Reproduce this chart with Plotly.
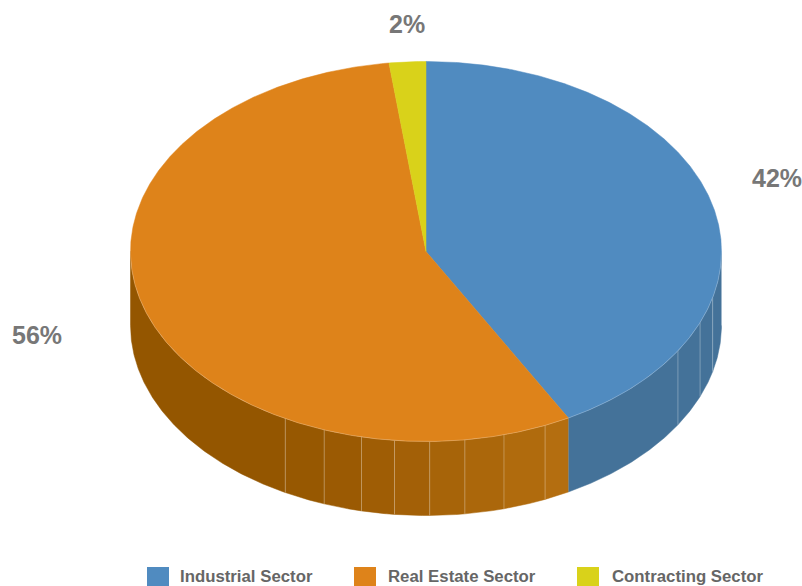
import numpy as np
import plotly.graph_objects as go

# Sector shares, clockwise from twelve o'clock
sectors = ["Industrial Sector", "Real Estate Sector", "Contracting Sector"]
shares = [42, 56, 2]
labels = ["42%", "56%", "2%"]

top_colors = ["#508bc0", "#de831a", "#d9d21a"]
label_color = "#777777"
legend_color = "#666666"

# Cumulative percentages where the rim of the drum is divided into facets
blue_seams = [28.9, 31.1, 33.75]
orange_seams = [43.4, 45.75, 47.9, 49.8, 51.7, 53.5, 55.6, 57.9]

# Facet shades, in the same clockwise order as the seams
blue_wall = ["#447299", "#447299", "#447299", "#447299"]
orange_wall = ["#b46e10", "#b06b0d", "#ab670b", "#a76409", "#a36007",
               "#9f5d05", "#9b5a03", "#975801", "#945600"]

# Drum geometry in plot units (the axes span the page in pixels)
CX, CY, RX, RY, DEPTH = 426, 251.5, 295.5, 190, 74
PAGE_W, PAGE_H = 802, 586


def rim(p0, p1, drop=0.0, step=0.1):
    """Ellipse points between two cumulative percentages."""
    n = max(2, int(abs(p1 - p0) / step) + 1)
    a = np.radians(np.linspace(p0, p1, n) * 3.6)
    return CX + RX * np.sin(a), CY - RY * np.cos(a) + drop


fig = go.Figure()


def add_wall(p0, p1, color):
    x0, y0 = rim(p0, p1)
    x1, y1 = rim(p1, p0, DEPTH)
    fig.add_trace(go.Scatter(
        x=np.r_[x0, x1], y=np.r_[y0, y1], mode="lines", fill="toself",
        fillcolor=color, line=dict(color=color, width=0.5),
        hoverinfo="skip", showlegend=False))


def add_seam(p, color="rgba(255,255,255,0.28)"):
    x, y = rim(p, p)
    fig.add_trace(go.Scatter(
        x=[x[0], x[0]], y=[y[0], y[0] + DEPTH], mode="lines",
        line=dict(color=color, width=1), hoverinfo="skip", showlegend=False))


# Side of the drum: only the front half (25% to 75%) is visible
boundaries = np.cumsum([0] + shares)
blue_edges = [25] + blue_seams + [boundaries[1]]
orange_edges = [boundaries[1]] + orange_seams + [75]
for i, c in enumerate(blue_wall):
    add_wall(blue_edges[i], blue_edges[i + 1], c)
for i, c in enumerate(orange_wall):
    add_wall(orange_edges[i], orange_edges[i + 1], c)
for p in blue_seams + orange_seams:
    add_seam(p)

# Top face
for i, name in enumerate(sectors):
    x, y = rim(boundaries[i], boundaries[i + 1])
    fig.add_trace(go.Scatter(
        x=np.r_[CX, x, CX], y=np.r_[CY, y, CY], mode="lines", fill="toself",
        fillcolor=top_colors[i], line=dict(color=top_colors[i], width=0.5),
        name=name, text=labels[i], hoverinfo="name+text", showlegend=False))

# Soft highlight along the front edge of the top face
hx, hy = rim(25, 75)
fig.add_trace(go.Scatter(
    x=hx, y=hy, mode="lines", line=dict(color="rgba(255,255,255,0.22)", width=1),
    hoverinfo="skip", showlegend=False))

# Percentage labels: anchored on each slice's rim midpoint, then nudged outward
label_shift = [(65, 26), (-108, -25), (0, 38)]
annotations = []
for i, text in enumerate(labels):
    mid = (boundaries[i] + boundaries[i + 1]) / 2
    a = np.radians(mid * 3.6)
    annotations.append(dict(
        x=CX + RX * np.sin(a), y=CY - RY * np.cos(a), text=text, showarrow=False,
        xshift=label_shift[i][0], yshift=label_shift[i][1],
        xanchor="center", yanchor="middle",
        font=dict(family="Liberation Sans", size=25, color=label_color, weight="bold")))

# Legend row along the bottom edge
swatch_left = [147, 354, 577]
text_left = [180, 388, 612]
shapes = []
for i, name in enumerate(sectors):
    shapes.append(dict(type="rect", xref="x", yref="y",
                       x0=swatch_left[i], x1=swatch_left[i] + 22, y0=567, y1=586,
                       fillcolor=top_colors[i], line=dict(width=0)))
    annotations.append(dict(
        x=text_left[i], y=576, text=name, showarrow=False, xanchor="left", yanchor="middle",
        xshift=-2,
        font=dict(family="Liberation Sans", size=16.8, color=legend_color, weight="bold")))

fig.update_layout(
    width=PAGE_W, height=PAGE_H, margin=dict(l=0, r=0, t=0, b=0),
    paper_bgcolor="white", plot_bgcolor="white", showlegend=False,
    xaxis=dict(range=[0, PAGE_W], visible=False, fixedrange=True),
    yaxis=dict(range=[PAGE_H, 0], visible=False, fixedrange=True),
    annotations=annotations, shapes=shapes)

fig.write_html("out.html", config=dict(displayModeBar=False))
